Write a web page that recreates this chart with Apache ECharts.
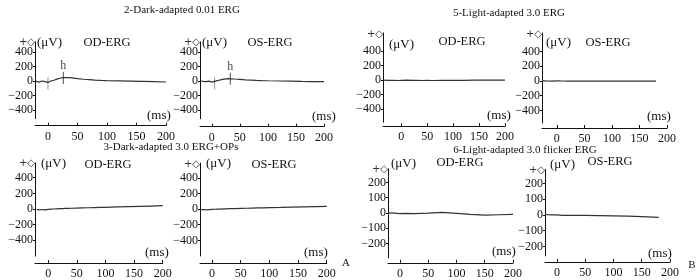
<!DOCTYPE html>
<html>
<head>
<meta charset="utf-8">
<script src="https://cdn.jsdelivr.net/npm/echarts@6/dist/echarts.min.js"></script>
<style>
  html, body { margin: 0; padding: 0; background: #fff; }
  #main { width: 700px; height: 280px; }
</style>
</head>
<body>
<div id="main"></div>
<script>
// time base (ms) shared by the dark-adapted traces
var timeMs = [-20, -15, -10, -5, 0, 5, 10, 15, 20, 25, 30, 35, 40, 50, 60, 70, 80, 90, 100, 120, 140, 160, 180, 200];

// 2-Dark-adapted 0.01 ERG (uV)
var dark001OD = [-5, -15, 0, -10, -20, 0, 10, 25, 38, 45, 48, 46, 42, 32, 24, 18, 12, 8, 5, 2, -2, -6, -10, -14];
var dark001OS = [0, -5, -8, -3, -15, -5, 5, 14, 22, 28, 32, 30, 27, 22, 16, 12, 8, 5, 3, 0, -3, -6, -8, -10];
// 3-Dark-adapted 3.0 ERG+OPs
var dark3OD = [-8, -10, -6, -10, -5, -2, 0, 2, 4, 6, 8, 9, 10, 12, 14, 16, 18, 20, 22, 26, 30, 34, 38, 42];
var dark3OS = [-8, -5, -10, -6, -4, -2, 0, 1, 3, 4, 5, 6, 7, 9, 11, 13, 15, 17, 19, 22, 26, 29, 32, 35];

// 5-Light-adapted 3.0 ERG
var light3TimeOD = [-35, -25, -15, -5, 0, 10, 20, 30, 40, 50, 60, 80, 100, 120, 140, 160, 180, 200];
var light3OD = [0, -3, -2, -5, -2, 0, -3, -4, -5, -4, -5, -3, -2, -3, -1, 0, 0, -1];
var light3TimeOS = [-27, -20, -10, 0, 10, 20, 40, 60, 80, 100, 120, 140, 160, 180];
var light3OS = [2, 0, -2, 0, -1, -2, -3, -2, -3, -2, -3, -2, -2, -2];

// 6-Light-adapted 3.0 flicker ERG
var flickerTimeOD = [-21, -10, 0, 10, 25, 50, 75, 100, 125, 150, 175, 200];
var flickerOD = [0, -2, -4, -3, -5, -2, 3, -3, -10, -15, -12, -9];
var flickerTimeOS = [-21, -10, 0, 10, 25, 50, 75, 100, 125, 150, 180];
var flickerOS = [3, 1, 0, -2, -3, -3, -4, -6, -8, -11, -15];

// cursor marks on the 0.01 ERG traces [ms, uV]
var hMarkOD = [[26, 40]];
var hMarkOS = [[33, 30]];
var onsetOD = [[0, -30]];
var onsetOS = [[5, -30]];

var yTicksDark = [-400, -200, 0, 200, 400];
var yTicksFlicker = [-200, -100, 0, 100, 200];
var xTicks = [0, 50, 100, 150, 200];

var panelTitles = ['2-Dark-adapted 0.01 ERG', '3-Dark-adapted 3.0 ERG+OPs', '5-Light-adapted 3.0 ERG', '6-Light-adapted 3.0 flicker ERG'];

function zip(xs, ys) { return xs.map(function (x, i) { return [x, ys[i]]; }); }

var FONT = 'Liberation Serif';

// layout of the eight small plots
var panels = [
  { left: 35, top: 41.8, width: 131, height: 76.9, xmin: -22, ymin: -520, ymax: 540, off: 7, ticks: yTicksDark, data: zip(timeMs, dark001OD), eye: 'OD-ERG',
    uv: [37, 44], eyeX: 107, eyeY: 43, ms: [147, 117] },
  { left: 200, top: 41.8, width: 124, height: 76.9, xmin: -21, ymin: -520, ymax: 540, off: 8, ticks: yTicksDark, data: zip(timeMs, dark001OS), eye: 'OS-ERG',
    uv: [202, 44], eyeX: 270, eyeY: 43, ms: [312, 118] },
  { left: 35, top: 162.8, width: 127.7, height: 95.2, xmin: -23, ymin: -600, ymax: 590, off: 7, ticks: yTicksDark, data: zip(timeMs, dark3OD), eye: 'OD-ERG',
    uv: [41, 165], eyeX: 108, eyeY: 165, ms: [145, 254] },
  { left: 200, top: 163, width: 126.7, height: 95, xmin: -21, ymin: -600, ymax: 590, off: 7, ticks: yTicksDark, data: zip(timeMs, dark3OS), eye: 'OS-ERG',
    uv: [206, 165], eyeX: 274, eyeY: 165, ms: [304, 254] },
  { left: 383, top: 33, width: 122, height: 89.2, xmin: -35, ymin: -580, ymax: 650, off: 4, ticks: yTicksDark, data: zip(light3TimeOD, light3OD), eye: 'OD-ERG',
    uv: [389, 46], eyeX: 462, eyeY: 42, ms: [487, 117] },
  { left: 542, top: 33, width: 125, height: 90, xmin: -27, ymin: -570, ymax: 650, off: 5, ticks: yTicksDark, data: zip(light3TimeOS, light3OS), eye: 'OS-ERG',
    uv: [546, 44], eyeX: 608, eyeY: 43, ms: [647, 118] },
  { left: 388, top: 168.8, width: 125, height: 89, xmin: -21, ymin: -295, ymax: 290, off: 5, ticks: yTicksFlicker, data: zip(flickerTimeOD, flickerOD), eye: 'OD-ERG',
    uv: [391, 165], eyeX: 460, eyeY: 163, ms: [492, 253] },
  { left: 545, top: 169.3, width: 125, height: 86.6, xmin: -21, ymin: -260, ymax: 290, off: 6, ticks: yTicksFlicker, data: zip(flickerTimeOS, flickerOS), eye: 'OS-ERG',
    uv: [550, 166], eyeX: 610, eyeY: 162, ms: [648, 255] }
];

var grid = [], xAxis = [], yAxis = [], series = [], graphic = [];

function minusSign(v) { return String(v).replace('-', '\u2212'); }

panels.forEach(function (p, i) {
  grid.push({ left: p.left, top: p.top, width: p.width, height: p.height });
  xAxis.push({
    type: 'value', gridIndex: i, min: p.xmin, max: 200, offset: p.off,
    axisLine: { onZero: false, lineStyle: { color: '#111', width: 1 } },
    axisTick: { inside: true, length: 3, customValues: xTicks, lineStyle: { color: '#111' } },
    axisLabel: { customValues: xTicks, color: '#111', fontFamily: FONT, fontSize: 12, margin: 5 },
    splitLine: { show: false }
  });
  yAxis.push({
    type: 'value', gridIndex: i, min: p.ymin, max: p.ymax,
    axisLine: { show: true, onZero: false, lineStyle: { color: '#111', width: 1 } },
    axisTick: { show: true, length: 2, customValues: p.ticks, lineStyle: { color: '#111' } },
    axisLabel: { customValues: p.ticks, color: '#111', fontFamily: FONT, fontSize: 12, margin: 2, formatter: minusSign },
    splitLine: { show: false }
  });
  series.push({
    type: 'line', xAxisIndex: i, yAxisIndex: i, data: p.data, showSymbol: false,
    lineStyle: { color: '#333', width: 1.2 }, animation: false
  });
  var t = { fontFamily: FONT, fontSize: 13, fill: '#111' };
  graphic.push({ type: 'text', left: p.uv[0], top: p.uv[1] - 8, style: Object.assign({ text: '(\u03bcV)' }, t) });
  graphic.push({ type: 'text', x: p.eyeX, y: p.eyeY, style: Object.assign({ text: p.eye, textAlign: 'center', textVerticalAlign: 'middle' }, t, { fontSize: 12.5 }) });
  graphic.push({ type: 'text', left: p.ms[0], top: p.ms[1] - 8, style: Object.assign({ text: '(ms)' }, t) });
  graphic.push({ type: 'text', x: p.left, y: p.top + 1, style: { text: '+\u25c7', fontFamily: 'DejaVu Sans', fontSize: 10, fill: '#333', textAlign: 'right', textVerticalAlign: 'middle' } });
});

// cursor marks
[[0, hMarkOD, onsetOD], [1, hMarkOS, onsetOS]].forEach(function (m) {
  series.push({
    type: 'scatter', xAxisIndex: m[0], yAxisIndex: m[0], data: m[1], symbol: 'rect', symbolSize: [1, 12],
    itemStyle: { color: '#222' }, animation: false,
    label: { show: true, position: 'top', distance: 0, formatter: 'h', fontFamily: FONT, fontSize: 12, color: '#111' }
  });
  series.push({
    type: 'scatter', xAxisIndex: m[0], yAxisIndex: m[0], data: m[2], symbol: 'rect', symbolSize: [1, 12],
    itemStyle: { color: '#777' }, animation: false
  });
});

var tf = { fontFamily: FONT, fontSize: 11, fill: '#111', textAlign: 'center', textVerticalAlign: 'middle' };
graphic.push({ type: 'text', x: 182, y: 10, style: Object.assign({ text: panelTitles[0] }, tf) });
graphic.push({ type: 'text', x: 171, y: 147, style: Object.assign({ text: panelTitles[1] }, tf) });
graphic.push({ type: 'text', x: 509, y: 13, style: Object.assign({ text: panelTitles[2] }, tf) });
graphic.push({ type: 'text', x: 525, y: 150, style: Object.assign({ text: panelTitles[3] }, tf) });
graphic.push({ type: 'text', x: 346, y: 263, style: Object.assign({ text: 'A', fontSize: 12 }, tf) });
graphic.push({ type: 'text', x: 692, y: 265, style: Object.assign({ text: 'B', fontSize: 12 }, tf) });

var chart = echarts.init(document.getElementById('main'));
chart.setOption({
  animation: false,
  backgroundColor: '#fff',
  grid: grid,
  xAxis: xAxis,
  yAxis: yAxis,
  series: series,
  graphic: graphic
});
</script>
</body>
</html>
